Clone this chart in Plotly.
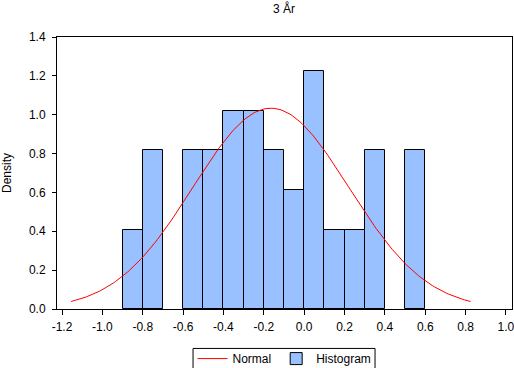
import numpy as np
import plotly.graph_objects as go

# Histogram bins (left edges, width 0.1) and densities
bin_left = [-0.9, -0.8, -0.7, -0.6, -0.5, -0.4, -0.3, -0.2, -0.1, 0.0, 0.1, 0.2, 0.3, 0.4, 0.5]
density = [0.408, 0.816, 0.0, 0.816, 0.816, 1.020, 1.020, 0.816, 0.612, 1.224, 0.408, 0.408, 0.816, 0.0, 0.816]
bin_width = 0.1

# Fitted normal parameters
normal_mean = -0.165
normal_sd = 0.386
normal_x_min = -1.155
normal_x_max = 0.825

x_ticks = [-1.2, -1.0, -0.8, -0.6, -0.4, -0.2, 0.0, 0.2, 0.4, 0.6, 0.8, 1.0]
x_tick_labels = ["-1.2", "-1.0", "-0.8", "-0.6", "-0.4", "-0.2", "0.0", "0.2", "0.4", "0.6", "0.8", "1.0"]
y_ticks = [0.0, 0.2, 0.4, 0.6, 0.8, 1.0, 1.2, 1.4]
y_tick_labels = ["0.0", "0.2", "0.4", "0.6", "0.8", "1.0", "1.2", "1.4"]

centers = [b + bin_width / 2 for b in bin_left]
heights = [d if d > 0 else None for d in density]

xs = np.linspace(normal_x_min, normal_x_max, 200)
ys = np.exp(-0.5 * ((xs - normal_mean) / normal_sd) ** 2) / (normal_sd * np.sqrt(2 * np.pi))

FONT = "Liberation Sans, Arial, sans-serif"

fig = go.Figure()
fig.add_trace(go.Bar(
    x=centers, y=heights, width=bin_width, name="Histogram",
    marker=dict(color="#99C0FF", line=dict(color="black", width=1)),
))
fig.add_trace(go.Scatter(
    x=xs, y=ys, mode="lines", name="Normal",
    line=dict(color="red", width=1),
))

fig.update_layout(
    width=514, height=368,
    margin=dict(l=57, r=2, t=37, b=59, autoexpand=False),
    paper_bgcolor="white", plot_bgcolor="white",
    font=dict(family=FONT, size=12, color="black"),
    title=dict(text="3 År", x=0.5525, xanchor="center", y=(368 - 9) / 368, yanchor="middle",
               font=dict(size=12, family=FONT, color="black")),
    bargap=0,
    showlegend=True,
    legend=dict(orientation="h", x=0.5, xanchor="center", y=-0.129, yanchor="top",
                borderwidth=0, bgcolor="rgba(0,0,0,0)", traceorder="reversed",
                font=dict(size=12, family=FONT), itemwidth=30),
    shapes=[dict(type="rect", xref="paper", yref="paper", x0=0.299, x1=0.699,
                 y0=-0.145, y1=-0.30, line=dict(color="black", width=1),
                 fillcolor="rgba(0,0,0,0)", layer="below")],
)
fig.update_xaxes(
    range=[-1.225, 1.03], tickvals=x_ticks, ticktext=x_tick_labels, automargin=False,
    showline=True, linecolor="black", linewidth=1, mirror=True,
    ticks="outside", ticklen=5, tickcolor="black", showgrid=False, zeroline=False,
    ticklabelstandoff=2, ticklabeloverflow="allow",
)
fig.update_yaxes(
    range=[0, 1.4], tickvals=y_ticks, ticktext=y_tick_labels, automargin=False,
    showline=True, linecolor="black", linewidth=1, mirror=True,
    ticks="outside", ticklen=4, tickcolor="black", showgrid=False, zeroline=False,
    ticklabelstandoff=4,
    title=dict(text="Density", standoff=14, font=dict(size=12)),
)

fig.write_html("out.html", config={"displayModeBar": False},
               post_script="document.body.style.margin='0px';")
